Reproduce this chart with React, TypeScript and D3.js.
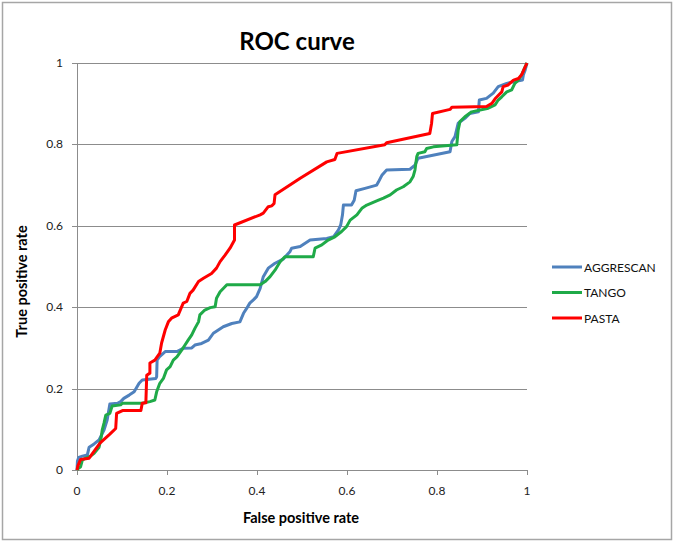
import React from "react";
import * as d3 from "d3";

const xTicks = [0, 0.2, 0.4, 0.6, 0.8, 1];
const yTicks = [0, 0.2, 0.4, 0.6, 0.8, 1];
const xTickLabels = ["0", "0.2", "0.4", "0.6", "0.8", "1"];
const yTickLabels = ["0", "0.2", "0.4", "0.6", "0.8", "1"];

const seriesNames = ["AGGRESCAN", "TANGO", "PASTA"];
const seriesColors = ["#4F81BD", "#1FAA48", "#FF0000"];

// [FPR, TPR]
const aggrescan: [number, number][] = [
  [0, 0], [0.001, 0.022], [0.004, 0.031], [0.012, 0.034], [0.023, 0.037], [0.027, 0.056],
  [0.038, 0.064], [0.049, 0.074], [0.06, 0.098], [0.067, 0.123], [0.073, 0.162], [0.09, 0.164],
  [0.097, 0.168], [0.104, 0.176], [0.116, 0.184], [0.127, 0.192], [0.138, 0.213], [0.145, 0.221],
  [0.175, 0.225], [0.177, 0.229], [0.178, 0.27], [0.183, 0.278], [0.196, 0.291], [0.222, 0.291],
  [0.236, 0.299], [0.255, 0.3], [0.262, 0.307], [0.277, 0.311], [0.292, 0.319], [0.303, 0.336],
  [0.325, 0.352], [0.344, 0.36], [0.362, 0.364], [0.37, 0.385], [0.377, 0.397], [0.384, 0.41],
  [0.392, 0.418], [0.399, 0.426], [0.407, 0.446], [0.414, 0.475], [0.425, 0.496], [0.44, 0.508],
  [0.458, 0.518], [0.473, 0.536], [0.477, 0.545], [0.496, 0.549], [0.518, 0.565], [0.555, 0.569],
  [0.57, 0.573], [0.581, 0.59], [0.586, 0.602], [0.59, 0.627], [0.592, 0.651], [0.61, 0.651],
  [0.616, 0.663], [0.62, 0.686], [0.64, 0.692], [0.666, 0.7], [0.67, 0.708], [0.678, 0.725],
  [0.688, 0.737], [0.74, 0.739], [0.751, 0.749], [0.758, 0.766], [0.829, 0.782], [0.833, 0.807],
  [0.84, 0.819], [0.847, 0.852], [0.862, 0.864], [0.873, 0.876], [0.892, 0.88], [0.894, 0.909],
  [0.91, 0.913], [0.925, 0.926], [0.936, 0.942], [0.955, 0.95], [0.97, 0.954], [0.99, 0.958],
  [0.992, 0.971], [0.996, 0.983], [1, 1],
];

const tango: [number, number][] = [
  [0, 0], [0.001, 0.002], [0.008, 0.008], [0.012, 0.025], [0.023, 0.031], [0.03, 0.034],
  [0.038, 0.041], [0.049, 0.056], [0.054, 0.082], [0.056, 0.098], [0.06, 0.115], [0.064, 0.135],
  [0.073, 0.139], [0.078, 0.157], [0.097, 0.16], [0.101, 0.164], [0.145, 0.164], [0.162, 0.168],
  [0.173, 0.172], [0.177, 0.192], [0.184, 0.213], [0.192, 0.225], [0.199, 0.246], [0.207, 0.254],
  [0.214, 0.27], [0.222, 0.278], [0.233, 0.295], [0.24, 0.307], [0.247, 0.319], [0.255, 0.332],
  [0.262, 0.348], [0.27, 0.364], [0.273, 0.381], [0.284, 0.393], [0.296, 0.399], [0.307, 0.401],
  [0.31, 0.422], [0.318, 0.438], [0.325, 0.446], [0.333, 0.455], [0.407, 0.455], [0.418, 0.463],
  [0.429, 0.475], [0.44, 0.491], [0.451, 0.511], [0.462, 0.524], [0.525, 0.524], [0.529, 0.545],
  [0.544, 0.553], [0.558, 0.565], [0.573, 0.573], [0.588, 0.586], [0.599, 0.598], [0.607, 0.614],
  [0.622, 0.627], [0.633, 0.643], [0.644, 0.651], [0.67, 0.663], [0.681, 0.668], [0.696, 0.676],
  [0.71, 0.688], [0.725, 0.696], [0.74, 0.708], [0.747, 0.721], [0.751, 0.737], [0.755, 0.77],
  [0.758, 0.778], [0.773, 0.782], [0.777, 0.79], [0.792, 0.794], [0.844, 0.799], [0.847, 0.835],
  [0.851, 0.856], [0.862, 0.868], [0.877, 0.88], [0.914, 0.889], [0.929, 0.897], [0.936, 0.909],
  [0.944, 0.917], [0.955, 0.929], [0.966, 0.934], [0.973, 0.95], [0.981, 0.958], [0.988, 0.971],
  [0.996, 0.991], [1, 1],
];

const pasta: [number, number][] = [
  [0, 0], [0.002, 0.01], [0.008, 0.026], [0.027, 0.029], [0.051, 0.066], [0.073, 0.088],
  [0.086, 0.102], [0.088, 0.139], [0.101, 0.146], [0.142, 0.146], [0.145, 0.164], [0.153, 0.165],
  [0.155, 0.233], [0.162, 0.238], [0.162, 0.263], [0.173, 0.27], [0.184, 0.287], [0.188, 0.312],
  [0.196, 0.344], [0.203, 0.364], [0.21, 0.373], [0.225, 0.381], [0.236, 0.41], [0.244, 0.414],
  [0.251, 0.434], [0.258, 0.442], [0.27, 0.463], [0.281, 0.471], [0.299, 0.483], [0.31, 0.496],
  [0.318, 0.512], [0.329, 0.528], [0.34, 0.545], [0.35, 0.565], [0.35, 0.602], [0.407, 0.627],
  [0.414, 0.631], [0.425, 0.647], [0.433, 0.649], [0.438, 0.655], [0.44, 0.676], [0.496, 0.717],
  [0.555, 0.757], [0.573, 0.763], [0.578, 0.778], [0.684, 0.799], [0.688, 0.804], [0.784, 0.827],
  [0.788, 0.852], [0.79, 0.876], [0.829, 0.886], [0.833, 0.891], [0.91, 0.893], [0.922, 0.901],
  [0.929, 0.912], [0.944, 0.929], [0.947, 0.942], [0.958, 0.946], [0.97, 0.958], [0.981, 0.962],
  [0.988, 0.971], [0.993, 0.983], [1, 1],
];

const seriesData = [aggrescan, tango, pasta];

const W = 675;
const H = 544;
const plot = { left: 77, right: 527, top: 63, bottom: 470 };
const font = "Lato, 'Open Sans', Arial, sans-serif";
const gridColor = "#8C8C8C";

export default function App() {
  const x = d3.scaleLinear().domain([0, 1]).range([plot.left, plot.right]);
  const y = d3.scaleLinear().domain([0, 1]).range([plot.bottom, plot.top]);
  const line = d3
    .line<[number, number]>()
    .x((d) => x(d[0]))
    .y((d) => y(d[1]));

  return (
    <svg
      width={W}
      height={H}
      style={{ position: "absolute", left: 0, top: 0, background: "#fff" }}
      fontFamily={font}
    >
      <rect x={2.5} y={2.5} width={669} height={537} fill="#fff" stroke="#A6A6A6" strokeWidth={1.5} />
      <text x={297} y={50} textAnchor="middle" fontSize={24} fontWeight="bold" fill="#000">
        ROC curve
      </text>

      {/* gridlines */}
      {yTicks.filter((t) => t > 0).map((t) => (
        <line key={"g" + t} x1={plot.left} x2={plot.right} y1={Math.round(y(t)) + 0.5} y2={Math.round(y(t)) + 0.5} stroke={gridColor} strokeWidth={1} />
      ))}

      {/* axes */}
      <line x1={plot.left + 0.5} x2={plot.left + 0.5} y1={plot.top} y2={plot.bottom} stroke={gridColor} />
      <line x1={plot.left} x2={plot.right} y1={plot.bottom + 0.5} y2={plot.bottom + 0.5} stroke={gridColor} />

      {yTicks.map((t, i) => (
        <g key={"y" + t}>
          <line x1={plot.left - 5} x2={plot.left} y1={Math.round(y(t)) + 0.5} y2={Math.round(y(t)) + 0.5} stroke={gridColor} />
          <text x={63} y={y(t) + 4} textAnchor="end" fontSize={12} fill="#222">
            {yTickLabels[i]}
          </text>
        </g>
      ))}
      {xTicks.map((t, i) => (
        <g key={"x" + t}>
          <line x1={Math.round(x(t)) + 0.5} x2={Math.round(x(t)) + 0.5} y1={plot.bottom} y2={plot.bottom + 5} stroke={gridColor} />
          <text x={x(t)} y={495} textAnchor="middle" fontSize={12} fill="#222">
            {xTickLabels[i]}
          </text>
        </g>
      ))}

      <text x={301} y={523} textAnchor="middle" fontSize={14.5} fontWeight="bold" fill="#000">
        False positive rate
      </text>
      <text
        transform={`translate(27, ${(plot.top + plot.bottom) / 2 + 15}) rotate(-90)`}
        textAnchor="middle"
        fontSize={14.5}
        fontWeight="bold"
        fill="#000"
      >
        True positive rate
      </text>

      {/* series */}
      {seriesData.map((d, i) => (
        <path key={seriesNames[i]} d={line(d) || ""} fill="none" stroke={seriesColors[i]} strokeWidth={3} strokeLinejoin="round" />
      ))}

      {/* legend */}
      {seriesNames.map((n, i) => (
        <g key={"l" + n} transform={`translate(0, ${267 + i * 25.5})`}>
          <line x1={552} x2={582} y1={0} y2={0} stroke={seriesColors[i]} strokeWidth={3} />
          <text x={584} y={4.5} fontSize={12} fill="#111">
            {n}
          </text>
        </g>
      ))}
    </svg>
  );
}
